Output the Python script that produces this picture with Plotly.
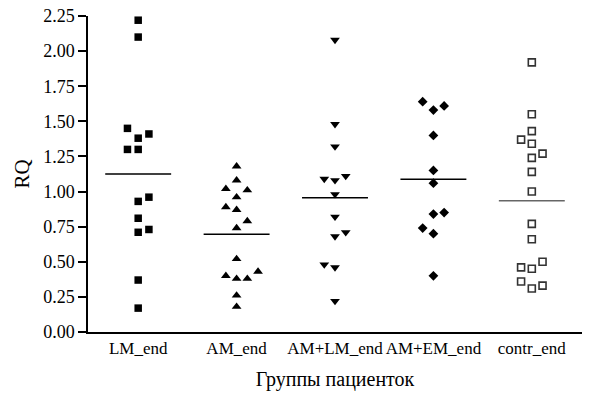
import plotly.graph_objects as go

categories = ["LM_end", "AM_end", "AM+LM_end", "AM+EM_end", "contr_end"]

lm_values = [2.22, 2.10, 1.45, 1.41, 1.38, 1.30, 1.30, 0.96, 0.93, 0.81, 0.73, 0.71, 0.37, 0.17]
lm_slots = [0, 0, -1, 1, 0, -1, 0, 1, 0, 0, 1, 0, 0, 0]

am_values = [1.18, 1.08, 1.02, 1.01, 0.96, 0.89, 0.87, 0.79, 0.74, 0.52, 0.43, 0.40, 0.38, 0.38, 0.26, 0.18]
am_slots = [0, 0, -1, 1, 0, -1, 0, 1, 0, 0, 2, -1, 0, 1, 0, 0]

amlm_values = [2.08, 1.48, 1.32, 1.11, 1.09, 1.08, 0.98, 0.82, 0.71, 0.68, 0.48, 0.46, 0.22]
amlm_slots = [0, 0, 0, 1, -1, 0, 0, 0, 1, 0, -1, 0, 0]

amem_values = [1.64, 1.61, 1.58, 1.40, 1.15, 1.06, 0.85, 0.84, 0.74, 0.70, 0.40]
amem_slots = [-1, 1, 0, 0, 0, 0, 1, 0, -1, 0, 0]

contr_values = [1.92, 1.55, 1.43, 1.37, 1.34, 1.27, 1.24, 1.14, 1.00, 0.77, 0.66, 0.50, 0.46, 0.45, 0.36, 0.33, 0.31]
contr_slots = [0, 0, 0, -1, 0, 1, 0, 0, 0, 0, 0, 1, -1, 0, -1, 1, 0]

group_means = [1.125, 0.696, 0.956, 1.087, 0.934]

y_ticks = [0.0, 0.25, 0.5, 0.75, 1.0, 1.25, 1.5, 1.75, 2.0, 2.25]

groups = [lm_values, am_values, amlm_values, amem_values, contr_values]
slots = [lm_slots, am_slots, amlm_slots, amem_slots, contr_slots]
styles = [
    dict(symbol="square", size=7.5, color="black", line=dict(width=0)),
    dict(symbol="triangle-up", size=8.5, color="black", line=dict(width=0)),
    dict(symbol="triangle-down", size=8.5, color="black", line=dict(width=0)),
    dict(symbol="diamond", size=7.5, color="black", line=dict(width=0)),
    dict(symbol="square-open", size=7, color="#333333", line=dict(width=1.6, color="#333333")),
]
mean_colors = ["black", "black", "black", "black", "#666666"]

STEP = 0.109
HALF = 0.335

fig = go.Figure()
for i, (vals, sl, st) in enumerate(zip(groups, slots, styles)):
    fig.add_trace(go.Scatter(
        x=[i + s * STEP for s in sl], y=vals, mode="markers",
        marker=st, showlegend=False, hoverinfo="y",
    ))
    fig.add_trace(go.Scatter(
        x=[i - HALF, i + HALF], y=[group_means[i], group_means[i]], mode="lines",
        line=dict(color=mean_colors[i], width=1.5), showlegend=False, hoverinfo="skip",
    ))

font = dict(family="Liberation Serif, Times New Roman, serif", color="black")

fig.update_layout(
    width=600, height=396,
    margin=dict(l=88, r=18, t=16, b=64),
    paper_bgcolor="white", plot_bgcolor="white",
    font=dict(**font, size=18),
)
fig.update_xaxes(
    range=[-0.51, 4.51], tickmode="array", tickvals=list(range(len(categories))),
    ticktext=categories, showline=True, linecolor="black", linewidth=1.5,
    ticks="", ticklen=0, showgrid=False, zeroline=False, automargin=False,
    tickfont=dict(**font, size=17),
    title=dict(text="Группы пациенток", font=dict(**font, size=20), standoff=15),
)
fig.update_yaxes(
    range=[0, 2.25], tickmode="array", tickvals=y_ticks,
    ticktext=[f"{v:.2f}" for v in y_ticks],
    showline=True, linecolor="black", linewidth=1.5,
    ticks="outside", ticklen=8, tickwidth=1.5, tickcolor="black",
    showgrid=False, zeroline=False, automargin=False,
    tickfont=dict(**font, size=18),
    title=dict(text="RQ", font=dict(**font, size=21), standoff=8),
)

fig.write_html("out.html", config={"displayModeBar": False},
               post_script="document.body.style.margin='0';")
